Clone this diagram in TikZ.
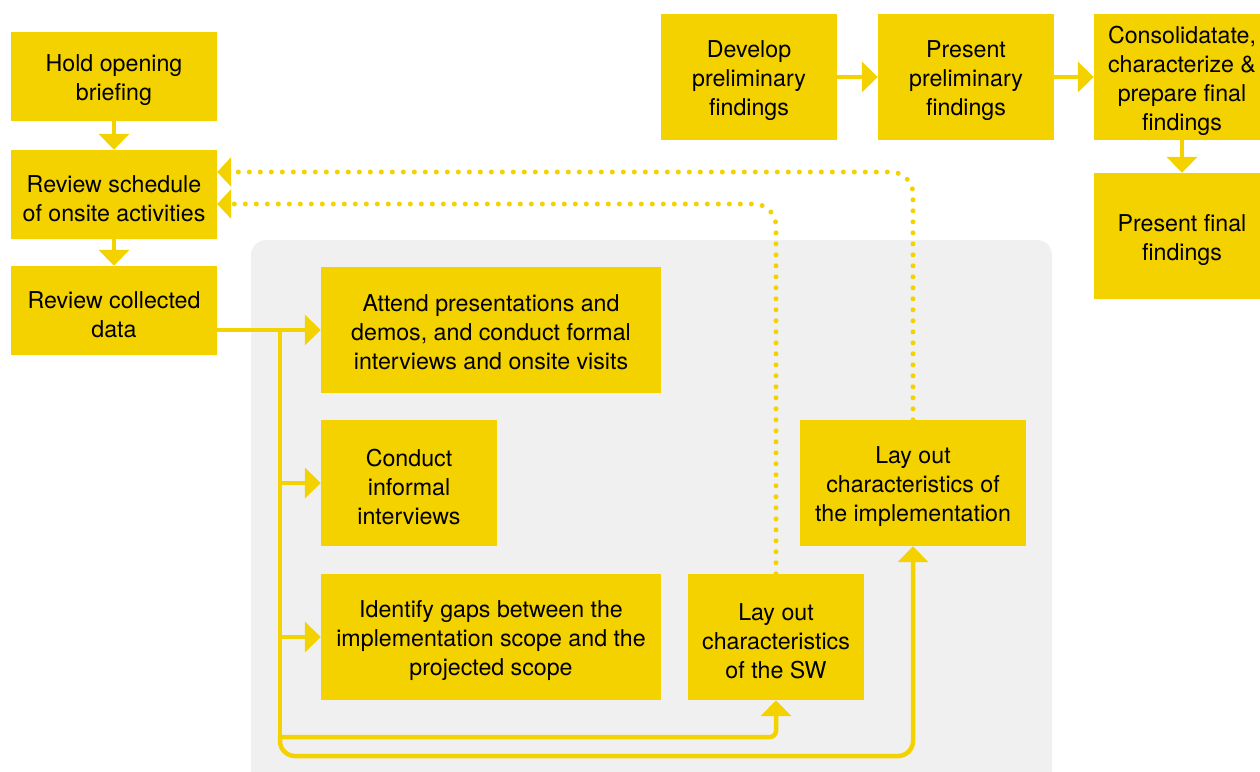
\documentclass[tikz,border=0pt]{standalone}
\usepackage{fontspec}
\setmainfont{TeX Gyre Heros}
\usetikzlibrary{arrows.meta}
\definecolor{ybox}{HTML}{F4D200}
\definecolor{panel}{HTML}{F0F0F0}
\newcommand\fstrut{\rule{0pt}{25pt}}
\tikzset{
  box/.style={fill=ybox, draw=none, align=center, inner sep=0pt,
    font=\fontsize{23.2}{29}\selectfont},
  flow/.style={draw=ybox, line width=4.5pt, -{Triangle[length=16pt,width=30pt]}},
  dotflow/.style={draw=ybox, line width=5pt, line cap=round, dash pattern=on 0pt off 11pt,
    -{Triangle[length=14pt,width=29pt]}},
}
\begin{document}
\begin{tikzpicture}[x=1pt,y=-1pt]
\useasboundingbox (0,0) rectangle (1260,771);
\fill[panel, rounded corners=15pt] (251,240) rectangle (1052,790);

\node[box, minimum width=206pt, minimum height=89pt] (hold) at (114,76.5) {\fstrut Hold opening\\briefing};
\node[box, minimum width=206pt, minimum height=89pt] (sched) at (114,194.5) {\fstrut Review schedule\\of onsite activities};
\node[box, minimum width=206pt, minimum height=89pt] (coll) at (114,310.5) {\fstrut Review collected\\data};

\node[box, minimum width=340pt, minimum height=126pt] (attend) at (491,330) {\rule{0pt}{21pt}Attend presentations and\\demos, and conduct formal\\interviews and onsite visits};
\node[box, minimum width=176pt, minimum height=126pt] (conduct) at (409,483) {\fstrut Conduct\\informal\\interviews};
\node[box, minimum width=340pt, minimum height=126pt] (gaps) at (491,637) {\fstrut Identify gaps between the\\implementation scope and the\\projected scope};
\node[box, minimum width=176pt, minimum height=126pt] (sw) at (776,637) {\fstrut Lay out\\characteristics\\of the SW};
\node[box, minimum width=226pt, minimum height=126pt] (impl) at (913,483) {\fstrut Lay out\\characteristics of\\the implementation};

\node[box, minimum width=176pt, minimum height=126pt] (dev) at (749,77) {\fstrut Develop\\preliminary\\findings};
\node[box, minimum width=176pt, minimum height=126pt] (pres) at (966,77) {\fstrut Present\\preliminary\\findings};
\node[box, minimum width=176pt, minimum height=126pt] (cons) at (1182,77) {\fstrut Consolidatate,\\characterize \&\\prepare final\\findings};
\node[box, minimum width=176pt, minimum height=126pt] (final) at (1182,236) {\fstrut Present final\\findings};

\draw[flow] (hold) -- (sched);
\draw[flow] (sched) -- (coll);
\draw[flow] (dev) -- (pres);
\draw[flow] (pres) -- (cons);
\draw[flow] (cons) -- (final);

\coordinate (split) at (280,330);
\draw[flow] (coll.east |- attend.west) -- (attend.west);
\draw[flow] (split |- conduct.west) -- (conduct.west);
\draw[flow] (split |- gaps.west) -- (gaps.west);
\draw[flow, -, rounded corners=0pt] (split) -- (280,740);
\draw[flow, rounded corners=6pt] (280,737) -- (sw.south |- 0,737) -- (sw.south);
\draw[flow, rounded corners=15pt] (280,735) -- (280,756) -- (impl.south |- 0,756) -- (impl.south);

\draw[dotflow, rounded corners=22pt] (sw.north) |- ([yshift=-9.5pt]sched.east);
\draw[dotflow, rounded corners=22pt] (impl.north) |- ([yshift=22.5pt]sched.east);
\end{tikzpicture}
\end{document}
